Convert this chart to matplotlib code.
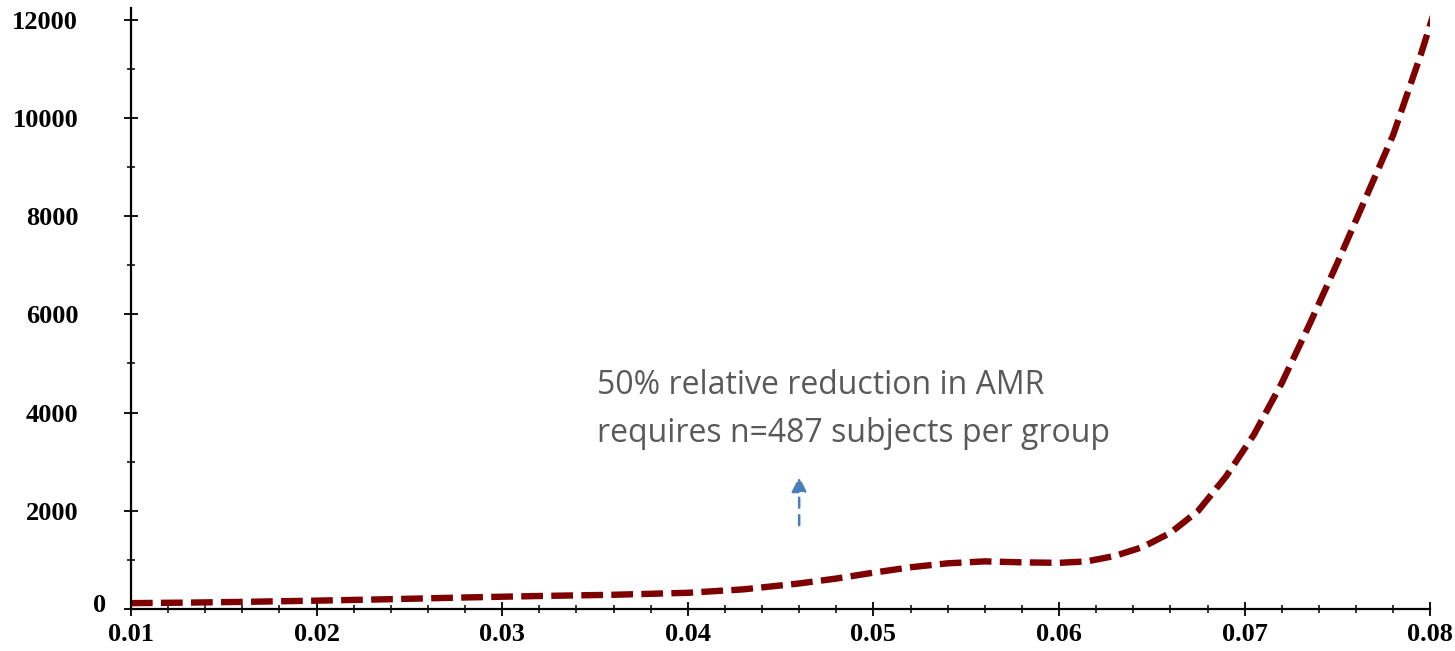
import matplotlib
matplotlib.use("Agg")
import matplotlib.pyplot as plt
from matplotlib.ticker import MultipleLocator, FormatStrFormatter, FuncFormatter

# values
rate = [0.010, 0.013, 0.016, 0.020, 0.024, 0.028, 0.032, 0.036, 0.040, 0.043,
        0.046, 0.048, 0.050, 0.052, 0.054, 0.056, 0.058, 0.060, 0.0615, 0.063,
        0.0645, 0.066, 0.0675, 0.069, 0.0705, 0.072, 0.0735, 0.075, 0.0765,
        0.078, 0.0795, 0.0805]
n_subjects = [120, 130, 145, 170, 200, 235, 265, 290, 330, 400,
              520, 620, 740, 850, 930, 970, 950, 940, 970, 1080,
              1260, 1550, 2000, 2700, 3550, 4600, 5800, 7050, 8350,
              9650, 11300, 12500]

note_text = "50% relative reduction in AMR\nrequires n=487 subjects per group"
arrow_x = 0.046
arrow_from = 1650
arrow_to = 2750

tick_font = dict(family="Liberation Serif", weight="bold", size=19)

fig = plt.figure(figsize=(14.55, 6.51), dpi=100)
ax = fig.add_axes([0.09, 0.0645, 0.893, 0.9235])

ax.plot(rate, n_subjects, color="#7f0000", linewidth=4.6, dashes=(3.4, 1.3),
        solid_capstyle="butt", dash_capstyle="butt")

ax.set_xlim(0.01, 0.08)
ax.set_ylim(0, 12240)

for side in ["top", "right"]:
    ax.spines[side].set_visible(False)
for side in ["left", "bottom"]:
    ax.spines[side].set_linewidth(1.6)

ax.xaxis.set_major_locator(MultipleLocator(0.01))
ax.xaxis.set_minor_locator(MultipleLocator(0.002))
ax.yaxis.set_major_locator(MultipleLocator(2000))
ax.yaxis.set_minor_locator(MultipleLocator(1000))
ax.xaxis.set_major_formatter(FormatStrFormatter("%.2f"))
# the "0" label sits closer to the axis, drawn separately below
ax.yaxis.set_major_formatter(FuncFormatter(lambda v, p: "" if v == 0 else "%d" % v))
ax.tick_params(which="major", direction="inout", length=10, width=1.3)
ax.tick_params(which="minor", direction="inout", length=6, width=1.1)
ax.tick_params(axis="x", pad=5)
ax.tick_params(axis="y", pad=33)

for lab in ax.get_xticklabels() + ax.get_yticklabels():
    lab.set_fontfamily(tick_font["family"])
    lab.set_fontweight(tick_font["weight"])
    lab.set_fontsize(tick_font["size"])

ax.annotate("0", xy=(0, 0), xycoords="axes fraction", xytext=(-25, 4),
            textcoords="offset pixels", ha="right", va="center", **tick_font)

ax.text(0.0351, 4060, note_text, fontsize=23, color="#595959",
        family="Open Sans", va="center", ha="left", linespacing=1.62)

ax.annotate("", xy=(arrow_x, arrow_to), xytext=(arrow_x, arrow_from),
            arrowprops=dict(arrowstyle="-|>,head_length=0.9,head_width=0.45",
                            color="#4a7ebb", lw=1.8, linestyle=(0, (4, 3))))

fig.savefig("out.png", dpi=100)
